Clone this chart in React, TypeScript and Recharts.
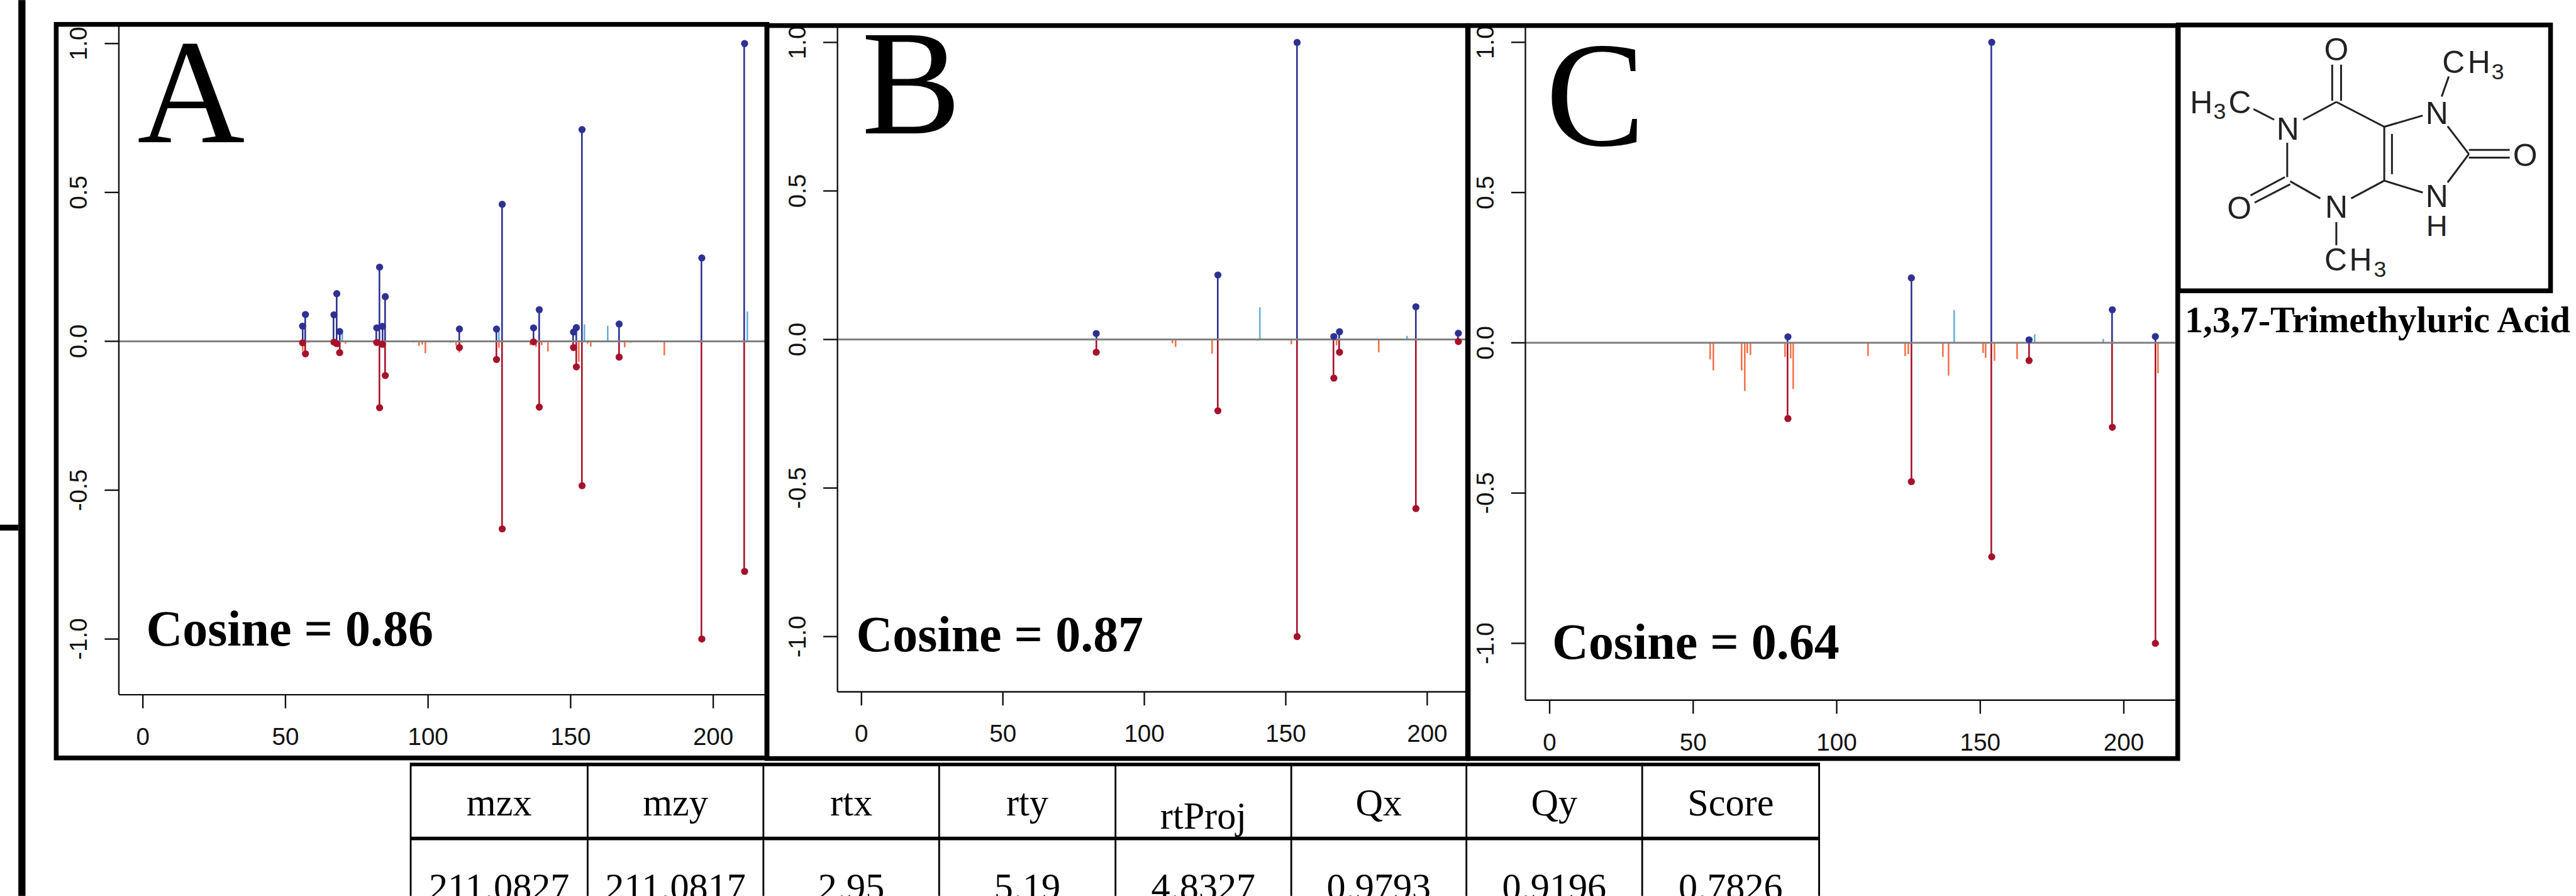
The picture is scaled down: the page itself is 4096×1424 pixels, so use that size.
import React from "react";
import { ComposedChart, Bar, Scatter, XAxis, YAxis, ReferenceLine } from "recharts";

// everything below is measured in reference pixels, then scaled to the window
const S = 4096 / 4353;
const WIDTH = 4096;
const HEIGHT = 1424;

const QUERY_BLUE = "#2E3192";
const LIB_RED = "#A6122A";
const WEAK_BLUE = "#6BAED6";
const WEAK_ORANGE = "#F4734A";
const SERIF = "'Liberation Serif', 'Times New Roman', serif";
const SANS = "'Liberation Sans', Arial, sans-serif";

const xTicks = [0, 50, 100, 150, 200];
const yTicks = [-1, -0.5, 0, 0.5, 1];

// panel A
const mzA = [56, 57, 67, 68, 69, 82, 83, 84, 85, 111, 124, 126, 137, 139, 151, 152, 154, 167, 196, 211];
const upA = [0.051, 0.09, 0.089, 0.16, 0.033, 0.045, 0.249, 0.05, 0.15, 0.041, 0.041, 0.46, 0.045, 0.106, 0.031, 0.046, 0.711, 0.058, 0.28, 1];
const downA = [-0.005, -0.042, -0.003, -0.008, -0.038, -0.004, -0.223, -0.01, -0.115, -0.021, -0.061, -0.63, -0.002, -0.221, -0.021, -0.086, -0.485, -0.053, -1, -0.773];
const weakUpA = [[70, 0.03], [125, 0.036], [155, 0.057], [163, 0.052], [212, 0.1]];
const weakDownA = [[56, -0.032], [58, -0.005], [71, -0.008], [95, -0.004], [97, -0.015], [98, -0.011], [99, -0.04], [108, -0.005], [109, -0.004], [110, -0.014], [111, -0.038], [112, -0.005], [125, -0.022], [136, -0.013], [138, -0.019], [140, -0.013], [142, -0.034], [153, -0.069], [156, -0.008], [157, -0.018], [169, -0.02], [171, -0.005], [179, -0.003], [183, -0.047], [195, -0.004], [197, -0.003]];

// panel B
const mzB = [83, 126, 154, 167, 169, 196, 211];
const upB = [0.02, 0.217, 1, 0.01, 0.026, 0.11, 0.021];
const downB = [-0.043, -0.24, -1, -0.13, -0.043, -0.569, -0.007];
const weakUpB = [[141, 0.109], [193, 0.012]];
const weakDownB = [[110, -0.013], [111, -0.025], [124, -0.048], [140, -0.004], [152, -0.016], [168, -0.02], [183, -0.043], [195, -0.003]];

// panel C
const mzC = [83, 126, 154, 167, 196, 211];
const upC = [0.02, 0.216, 1, 0.01, 0.11, 0.021];
const downC = [-0.252, -0.462, -0.712, -0.059, -0.281, -1];
const weakUpC = [[141, 0.109], [169, 0.028], [193, 0.013]];
const weakDownC = [[56, -0.055], [57, -0.092], [67, -0.092], [68, -0.16], [69, -0.034], [70, -0.041], [82, -0.047], [84, -0.052], [85, -0.154], [111, -0.044], [124, -0.044], [125, -0.038], [137, -0.047], [139, -0.109], [151, -0.034], [152, -0.05], [155, -0.06], [163, -0.054], [212, -0.101]];

const tableHeader = ["mzx", "mzy", "rtx", "rty", "rtProj", "Qx", "Qy", "Score"];
const tableValues = ["211.0827", "211.0817", "2.95", "5.19", "4.8327", "0.9793", "0.9196", "0.7826"];
const tableColumns = [694, 993, 1290, 1587, 1885, 2182, 2478, 2775, 3074];

function buildRows(mz: number[], up: number[], down: number[], weakUp: number[][], weakDown: number[][]) {
  return [
    ...mz.map((m, i) => ({ mz: m, up: up[i], down: down[i] })),
    ...weakUp.map(([m, v]) => ({ mz: m, weakUp: v })),
    ...weakDown.map(([m, v]) => ({ mz: m, weakDown: v })),
  ];
}

const panels = [
  {
    rows: buildRows(mzA, upA, downA, weakUpA, weakDownA),
    box: [99, 40, 1296, 1281], plotLeft: 201, plotBottom: 1173,
    xDomain: [-8.43, 218.8], yDomain: [-1.187, 1.066],
  },
  {
    rows: buildRows(mzB, upB, downB, weakUpB, weakDownB),
    box: [1300, 43, 2478, 1281], plotLeft: 1415.5, plotBottom: 1169,
    xDomain: [-8.47, 213.8], yDomain: [-1.186, 1.058],
  },
  {
    rows: buildRows(mzC, upC, downC, weakUpC, weakDownC),
    box: [2485, 43, 3676, 1281], plotLeft: 2578, plotBottom: 1183,
    xDomain: [-8.44, 217.9], yDomain: [-1.189, 1.057],
  },
];

// stems snap to whole pixels, otherwise the thin bars blur out pale
const stem = (fill: string) => (p: any) => {
  if (!p.height) return <g />;
  const top = Math.min(p.y, p.y + p.height);
  return <rect x={Math.round(p.x - 0.3)} y={top} width={2.6} height={Math.abs(p.height)} fill={fill} />;
};

const dot = (fill: string) => (p: any) => <circle cx={p.cx} cy={p.cy} r={6 * S} fill={fill} />;

const yTick = (p: any) => (
  <text x={p.x} y={p.y} transform={`rotate(-90 ${p.x} ${p.y})`} textAnchor="middle" fontFamily={SANS} fontSize={41 * S} fill="#111">
    {Number(p.payload.value).toFixed(1)}
  </text>
);

const xTick = (p: any) => (
  <text x={p.x} y={p.y} textAnchor="middle" fontFamily={SANS} fontSize={41 * S} fill="#111">
    {p.payload.value}
  </text>
);

function Panel({ rows, box, plotLeft, plotBottom, xDomain, yDomain }: any) {
  const [x0, y0, x1, y1] = box;
  return (
    <div style={{ position: "absolute", left: x0 * S, top: y0 * S }}>
      <ComposedChart
        width={(x1 - x0) * S}
        height={(y1 - y0) * S}
        data={rows}
        stackOffset="sign"
        margin={{ top: 0, right: 0, bottom: 0, left: 0 }}
      >
        <XAxis
          type="number"
          dataKey="mz"
          domain={xDomain}
          ticks={xTicks}
          allowDataOverflow
          height={(y1 - plotBottom) * S}
          stroke="#111"
          strokeWidth={2.4}
          tickSize={23 * S}
          tickMargin={62 * S}
          tick={xTick}
        />
        <YAxis
          type="number"
          domain={yDomain}
          ticks={yTicks}
          allowDataOverflow
          width={(plotLeft - x0) * S}
          stroke="#111"
          strokeWidth={2.4}
          tickSize={24 * S}
          tickMargin={30 * S}
          tick={yTick}
        />
        <Bar dataKey="weakUp" stackId="s" barSize={2} shape={stem(WEAK_BLUE)} isAnimationActive={false} />
        <Bar dataKey="weakDown" stackId="s" barSize={2} shape={stem(WEAK_ORANGE)} isAnimationActive={false} />
        <Bar dataKey="up" stackId="s" barSize={2} shape={stem(QUERY_BLUE)} isAnimationActive={false} />
        <Bar dataKey="down" stackId="s" barSize={2} shape={stem(LIB_RED)} isAnimationActive={false} />
        <ReferenceLine y={0} stroke="#808080" strokeWidth={3} />
        <Scatter
          data={rows.filter((r: any) => r.up !== undefined)}
          dataKey="up"
          shape={dot(QUERY_BLUE)}
          isAnimationActive={false}
        />
        <Scatter
          data={rows.filter((r: any) => r.down !== undefined)}
          dataKey="down"
          shape={dot(LIB_RED)}
          isAnimationActive={false}
        />
      </ComposedChart>
    </div>
  );
}

// the trimethyluric acid drawing, in reference pixels
const bonds = [
  [3941, 109, 3941, 170], [3956, 109, 3956, 170],
  [3948, 172, 3892, 202], [3865, 241, 3865, 299], [3870, 306, 3921, 335],
  [3973, 335, 4029, 305], [4029, 305, 4029, 214], [4042, 226, 4042, 294],
  [4029, 214, 3948, 172], [4029, 214, 4094, 195], [4136, 213, 4172, 260],
  [4172, 260, 4136, 308], [4094, 325, 4029, 305], [4172, 253, 4241, 253],
  [4172, 266, 4241, 266], [3861, 299, 3803, 330], [3870, 311, 3810, 342],
  [3843, 202, 3808, 184], [4126, 163, 4138, 129], [3948, 375, 3948, 414],
];

const atoms = [
  { t: "O", x: 3948, y: 102, size: 53 },
  { t: "O", x: 4267, y: 280, size: 53 },
  { t: "O", x: 3784, y: 370, size: 53 },
  { t: "N", x: 3866, y: 236, size: 53 },
  { t: "N", x: 4118, y: 209, size: 53 },
  { t: "N", x: 4118, y: 350, size: 53 },
  { t: "H", x: 4118, y: 398, size: 50 },
  { t: "N", x: 3948, y: 368, size: 53 },
  { t: "C", x: 4146, y: 123, size: 53 },
  { t: "H", x: 4189, y: 123, size: 53 },
  { t: "3", x: 4221, y: 134, size: 38 },
  { t: "H", x: 3720, y: 191, size: 53 },
  { t: "3", x: 3751, y: 201, size: 38 },
  { t: "C", x: 3785, y: 191, size: 53 },
  { t: "C", x: 3947, y: 457, size: 53 },
  { t: "H", x: 3989, y: 457, size: 53 },
  { t: "3", x: 4022, y: 467, size: 38 },
];

const frames = [
  [95, 41, 1296, 1280],
  [1296, 43, 2480, 1281],
  [2481, 43, 3680, 1281],
  [3681, 42, 4310, 491],
];

const panelLetters = [
  { t: "A", x: 232, y: 240 },
  { t: "B", x: 1456, y: 225 },
  { t: "C", x: 2612, y: 245 },
];

const cosineLabels = [
  { t: "Cosine = 0.86", x: 247, y: 1090 },
  { t: "Cosine = 0.87", x: 1447, y: 1100 },
  { t: "Cosine = 0.64", x: 2623, y: 1113 },
];

function Overlay() {
  return (
    <svg
      width={WIDTH}
      height={HEIGHT}
      viewBox="0 0 4353 1513"
      style={{ position: "absolute", left: 0, top: 0, pointerEvents: "none" }}
    >
      {/* sidebar rule from the neighbouring figure */}
      <rect x={31} y={0} width={12} height={1513} fill="#000" />
      <rect x={0} y={886} width={31} height={10} fill="#000" />

      {frames.map(([x0, y0, x1, y1], i) => (
        <rect key={i} x={x0} y={y0} width={x1 - x0} height={y1 - y0} fill="none" stroke="#000" strokeWidth={8} />
      ))}

      {panelLetters.map((l) => (
        <text key={l.t} x={l.x} y={l.y} fontFamily={SERIF} fontSize={252} fill="#000">{l.t}</text>
      ))}
      {cosineLabels.map((l) => (
        <text key={l.t} x={l.x} y={l.y} fontFamily={SERIF} fontWeight="bold" fontSize={85} fill="#000">{l.t}</text>
      ))}

      {bonds.map(([x1, y1, x2, y2], i) => (
        <line key={i} x1={x1} y1={y1} x2={x2} y2={y2} stroke="#222" strokeWidth={3.2} />
      ))}
      {atoms.map((a, i) => (
        <text key={i} x={a.x} y={a.y} textAnchor="middle" fontFamily={SANS} fontSize={a.size} fill="#222">{a.t}</text>
      ))}
      <text x={3692} y={561} fontFamily={SERIF} fontWeight="bold" fontSize={62} fill="#000">1,3,7-Trimethyluric Acid</text>

      {/* table */}
      <rect x={694} y={1288} width={2380} height={6} fill="#000" />
      <rect x={694} y={1413} width={2380} height={6} fill="#000" />
      {tableColumns.map((x) => (
        <rect key={x} x={x - 1.5} y={1288} width={3} height={225} fill="#000" />
      ))}
      {tableHeader.map((h, i) => (
        <text
          key={h}
          x={(tableColumns[i] + tableColumns[i + 1]) / 2}
          y={h === "rtProj" ? 1399 : 1377}
          textAnchor="middle"
          fontFamily={SERIF}
          fontSize={64}
          fill="#000"
        >
          {h}
        </text>
      ))}
      {tableValues.map((v, i) => (
        <text
          key={i}
          x={(tableColumns[i] + tableColumns[i + 1]) / 2}
          y={1520}
          textAnchor="middle"
          fontFamily={SERIF}
          fontSize={64}
          fill="#000"
        >
          {v}
        </text>
      ))}
    </svg>
  );
}

export default function App() {
  return (
    <div style={{ position: "absolute", left: 0, top: 0, width: WIDTH, height: HEIGHT, background: "#fff", overflow: "hidden" }}>
      {panels.map((p, i) => (
        <Panel key={i} {...p} />
      ))}
      <Overlay />
    </div>
  );
}
